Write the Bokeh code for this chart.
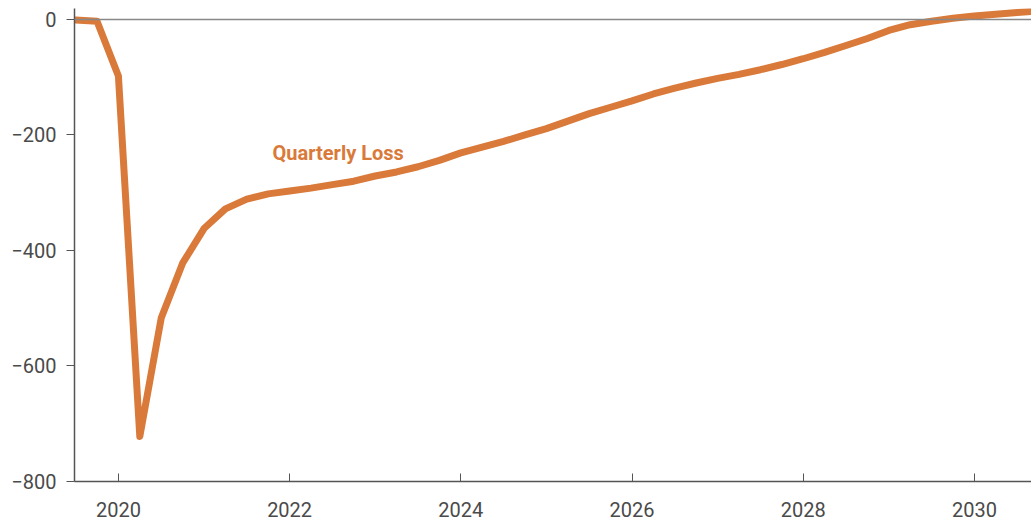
from bokeh.plotting import figure
from bokeh.models import ColumnDataSource, Range1d, FixedTicker, Span
from bokeh.core.properties import value
from bokeh.embed import file_html
from bokeh.resources import INLINE

quarters = [2019.5 + 0.25 * i for i in range(46)]
loss = [-1, -3, -98, -722, -517, -422, -362, -328, -311, -302,
        -297, -292, -286, -280, -271, -264, -255, -244, -231, -221,
        -211, -200, -189, -176, -163, -152, -141, -129, -119, -110,
        -102, -95, -87, -78, -68, -57, -45, -33, -19, -9,
        -3, 2, 6, 9, 12, 15]
x_ticks = [2020, 2022, 2024, 2026, 2028, 2030]
y_ticks = [0, -200, -400, -600, -800]
y_labels = {0: "0", -200: "\u2212200", -400: "\u2212400", -600: "\u2212600", -800: "\u2212800"}
series_label = "Quarterly Loss"

src = ColumnDataSource(dict(x=quarters, y=loss))

p = figure(width=1031, height=523, output_backend="svg", toolbar_location=None,
           x_range=Range1d(2019.487, 2030.667), y_range=Range1d(-800, 19),
           min_border_left=74, min_border_right=0, min_border_top=8, min_border_bottom=42)
p.outline_line_color = None
p.grid.visible = False
p.background_fill_color = "white"

zero = Span(location=0, dimension="width", line_color="#888888", line_width=1.5)
p.add_layout(zero)

p.line("x", "y", source=src, line_color="#D97A3A", line_width=7, line_join="round", line_cap="round")

p.text(x=[2021.80], y=[-232], text=[series_label], text_color="#D97A3A",
       text_font=value("Roboto"), text_font_style="bold", text_font_size="20px",
       text_align="left", text_baseline="middle")

ax = p.xaxis[0]
ax.ticker = FixedTicker(ticks=x_ticks)
ax.major_tick_in = 8
ax.major_tick_out = 0
ax.minor_tick_line_color = None
ax.axis_line_color = "#555555"
ax.axis_line_width = 1.5
ax.major_tick_line_color = "#555555"
ax.major_label_text_font = "Roboto"
ax.major_label_text_font_size = "20px"
ax.major_label_text_color = "#4a4a4a"
ax.major_label_standoff = 20

ay = p.yaxis[0]
ay.ticker = FixedTicker(ticks=y_ticks)
ay.major_label_overrides = y_labels
ay.major_tick_in = 0
ay.major_tick_out = 8
ay.minor_tick_line_color = None
ay.axis_line_color = "#555555"
ay.axis_line_width = 1.5
ay.major_tick_line_color = "#555555"
ay.major_label_text_font = "Roboto"
ay.major_label_text_font_size = "20px"
ay.major_label_text_color = "#4a4a4a"
ay.major_label_standoff = 10

open("out.html", "w").write(file_html(p, INLINE))
